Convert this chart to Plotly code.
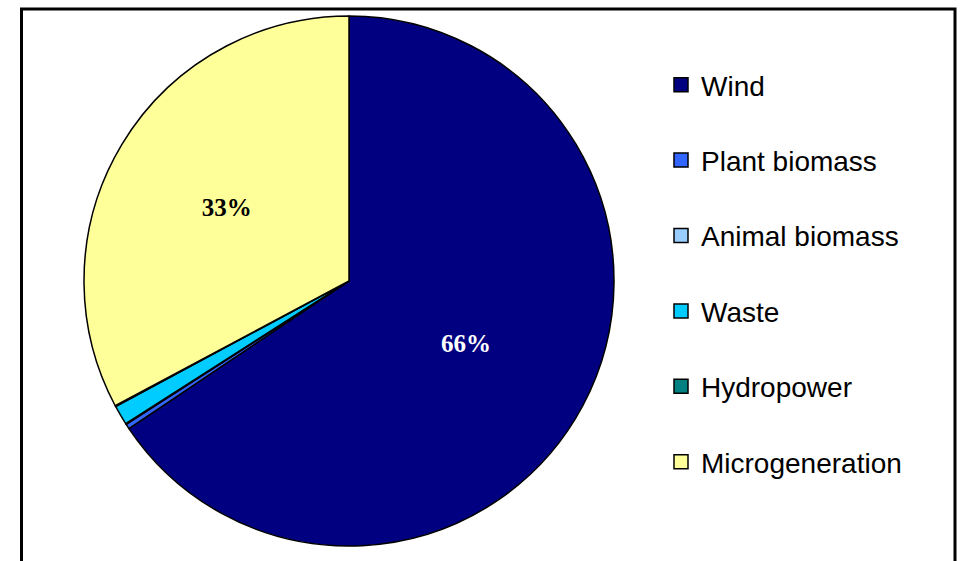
import plotly.graph_objects as go

categories = ["Wind", "Plant biomass", "Animal biomass", "Waste", "Hydropower", "Microgeneration"]
values = [65.6, 0.3, 0.05, 1.2, 0.05, 32.8]
colors = ["#000080", "#3366FF", "#99CCFF", "#00CCFF", "#008080", "#FFFF99"]
label_colors = ["white", "black", "black", "black", "black", "black"]
show_label = [True, False, False, False, False, True]

W, H = 962, 561
cx, cy, r = 349, 281, 265

fig = go.Figure()
fig.add_trace(go.Pie(
    labels=categories,
    values=values,
    sort=False,
    direction="clockwise",
    rotation=0,
    marker=dict(colors=colors, line=dict(color="black", width=1.5)),
    texttemplate=["%{percent:.0%}" if s else "" for s in show_label],
    textposition="inside",
    insidetextorientation="horizontal",
    textfont=dict(family="Liberation Serif", size=25, color=label_colors, weight="bold"),
    showlegend=False,
    hoverinfo="label+percent",
    domain=dict(x=[(cx - r) / W, (cx + r) / W], y=[(H - cy - r) / H, (H - cy + r) / H]),
))

for name, col in zip(categories, colors):
    fig.add_trace(go.Scatter(
        x=[None], y=[None], mode="markers", name=name, legendgroup=name,
        marker=dict(symbol="square", size=14, color=col, line=dict(color="black", width=1.5)),
    ))

fig.update_layout(
    width=W, height=H,
    margin=dict(l=0, r=0, t=0, b=0),
    paper_bgcolor="white",
    plot_bgcolor="white",
    xaxis=dict(visible=False),
    yaxis=dict(visible=False),
    legend=dict(
        x=661 / W, y=1 - 60 / H, xanchor="left", yanchor="top",
        font=dict(family="Liberation Sans", size=28, color="black"),
        tracegroupgap=36,
        bgcolor="rgba(0,0,0,0)",
    ),
    shapes=[dict(type="rect", xref="paper", yref="paper",
                 x0=21.5 / W, x1=955 / W, y0=-0.05, y1=1 - 9 / H,
                 line=dict(color="black", width=3), layer="below")],
)

fig.write_html("out.html")
